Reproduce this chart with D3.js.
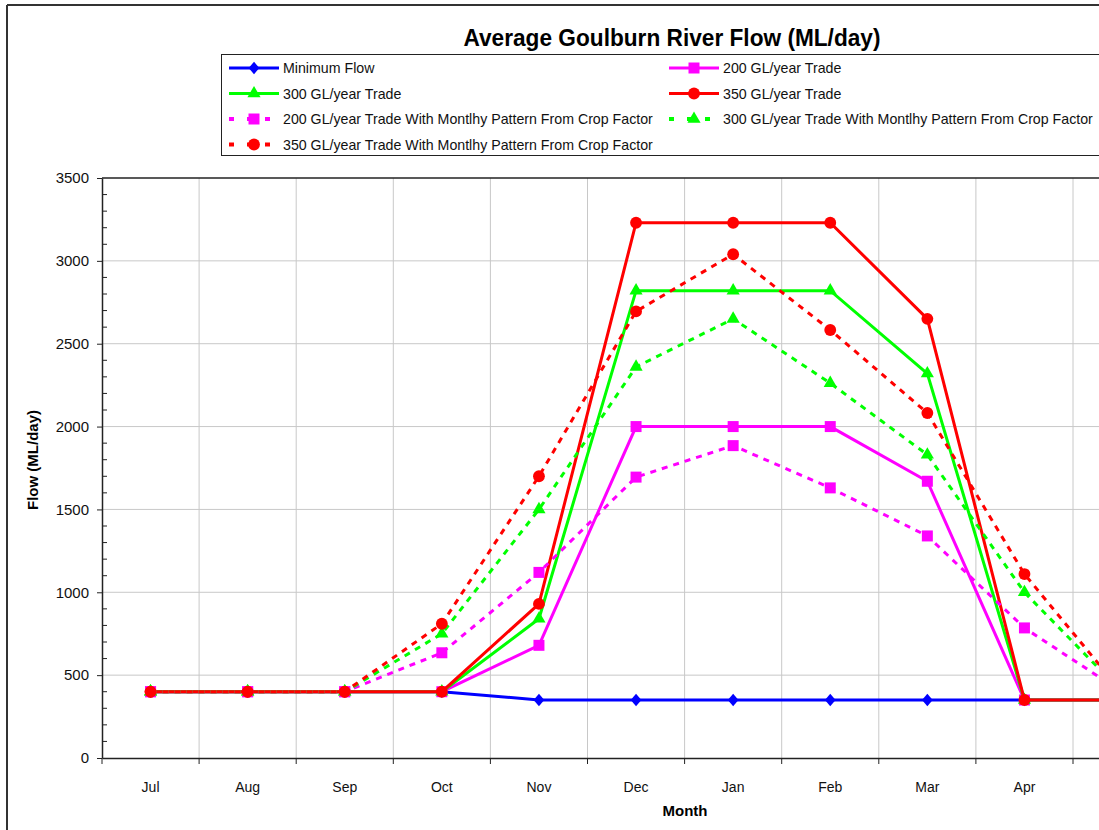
<!doctype html>
<html lang="en">
<head>
  <meta charset="utf-8">
  <title>Average Goulburn River Flow</title>
  <script src="https://cdn.jsdelivr.net/npm/d3@7"></script>
  <style>
    body { margin: 0; background: #fff; overflow: hidden; }
    svg { display: block; font-family: "Liberation Sans", Arial, sans-serif; }
    .grid line { stroke: #c8c8c8; stroke-width: 1; }
  </style>
</head>
<body>
<svg id="chart" width="1099" height="830"></svg>
<script>
// months Jul..Jun (chart is cropped on the right, only Jul..Apr visible)
var months = ["Jul", "Aug", "Sep", "Oct", "Nov", "Dec", "Jan", "Feb", "Mar", "Apr", "May", "Jun"];
var yTicks = [0, 500, 1000, 1500, 2000, 2500, 3000, 3500];

var minimumFlow = [400, 400, 400, 400, 350, 350, 350, 350, 350, 350, 350, 350];
var trade200 = [400, 400, 400, 400, 680, 2000, 2000, 2000, 1670, 350, 350, 350];
var trade300 = [400, 400, 400, 400, 840, 2820, 2820, 2820, 2320, 350, 350, 350];
var trade350 = [400, 400, 400, 400, 930, 3230, 3230, 3230, 2650, 350, 350, 350];
var crop200 = [400, 400, 400, 635, 1120, 1695, 1885, 1630, 1340, 785, 400, 400];
var crop300 = [400, 400, 400, 750, 1500, 2360, 2650, 2262, 1830, 1000, 400, 400];
var crop350 = [400, 400, 400, 810, 1700, 2695, 3040, 2583, 2082, 1110, 400, 400];

// diamond marker like the excel one
var diamond = {
  draw: function(ctx, size) {
    var h = Math.sqrt(size) * 0.75, w = h * 0.85;
    ctx.moveTo(0, -h); ctx.lineTo(w, 0); ctx.lineTo(0, h); ctx.lineTo(-w, 0); ctx.closePath();
  }
};

var series = [
  { name: "Minimum Flow", values: minimumFlow, color: "#0000ff", dash: null, sym: diamond, size: 70 },
  { name: "200 GL/year Trade", values: trade200, color: "#ff00ff", dash: null, sym: d3.symbolSquare, size: 121 },
  { name: "300 GL/year Trade", values: trade300, color: "#00ff00", dash: null, sym: d3.symbolTriangle, size: 75 },
  { name: "350 GL/year Trade", values: trade350, color: "#ff0000", dash: null, sym: d3.symbolCircle, size: 110 },
  { name: "200 GL/year Trade With Montlhy Pattern From Crop Factor", values: crop200, color: "#ff00ff", dash: "6,6", sym: d3.symbolSquare, size: 121 },
  { name: "300 GL/year Trade With Montlhy Pattern From Crop Factor", values: crop300, color: "#00ff00", dash: "6,6", sym: d3.symbolTriangle, size: 75 },
  { name: "350 GL/year Trade With Montlhy Pattern From Crop Factor", values: crop350, color: "#ff0000", dash: "6,6", sym: d3.symbolCircle, size: 110 }
];

var svg = d3.select("#chart");
var plotLeft = 102, plotTop = 178, plotBottom = 758, band = 97.1;
var plotRight = plotLeft + band * months.length;

var x = d3.scaleBand().domain(months).range([plotLeft, plotRight]).padding(0);
var y = d3.scaleLinear().domain([0, 3500]).range([plotBottom, plotTop]);

// outer chart frame (only top and left edges are inside the picture)
svg.append("line").attr("x1", 7).attr("x2", 1099).attr("y1", 5).attr("y2", 5)
  .attr("stroke", "#333").attr("stroke-width", 2);
svg.append("line").attr("x1", 7).attr("x2", 7).attr("y1", 5).attr("y2", 830)
  .attr("stroke", "#333").attr("stroke-width", 2);

// title
svg.append("text").attr("x", 672).attr("y", 46).attr("text-anchor", "middle")
  .style("font-size", "24px").style("font-weight", "bold")
  .attr("textLength", 417).attr("lengthAdjust", "spacingAndGlyphs")
  .text("Average Goulburn River Flow (ML/day)");

// gridlines
var grid = svg.append("g").attr("class", "grid");
grid.selectAll("line.h").data(yTicks.slice(1, -1)).enter().append("line")
  .attr("x1", plotLeft).attr("x2", plotRight)
  .attr("y1", function(d) { return y(d); }).attr("y2", function(d) { return y(d); });
grid.selectAll("line.v").data(months.slice(1)).enter().append("line")
  .attr("x1", function(d) { return x(d); }).attr("x2", function(d) { return x(d); })
  .attr("y1", plotTop).attr("y2", plotBottom);
// top border of plot
svg.append("line").attr("x1", plotLeft).attr("x2", plotRight)
  .attr("y1", plotTop).attr("y2", plotTop).attr("stroke", "#222").attr("stroke-width", 1.5);

// y axis
var yAxis = svg.append("g").attr("transform", "translate(" + plotLeft + ",0)")
  .call(d3.axisLeft(y).tickValues(yTicks).tickFormat(d3.format("d"))
    .tickSize(5).tickSizeOuter(0).tickPadding(8));
yAxis.select(".domain").attr("stroke", "#222").attr("stroke-width", 1.5);
yAxis.selectAll(".tick line").attr("stroke", "#222");
yAxis.selectAll("text").style("font-size", "15px").attr("fill", "#111")
  .style("font-family", "'Liberation Sans', Arial, sans-serif");
// minor ticks every 100 inside the plot
svg.append("g").selectAll("line").data(d3.range(0, 3501, 100).filter(function(v) { return v % 500 !== 0; }))
  .enter().append("line")
  .attr("x1", plotLeft).attr("x2", plotLeft + 5)
  .attr("y1", function(d) { return y(d); }).attr("y2", function(d) { return y(d); })
  .attr("stroke", "#222");

// x axis (May/Jun fall outside the cropped picture, so no label for them)
var visibleMonths = months.slice(0, 10);
var xAxis = svg.append("g").attr("transform", "translate(0," + plotBottom + ")")
  .call(d3.axisBottom(x).tickValues(visibleMonths).tickSize(0).tickPadding(24));
xAxis.select(".domain").attr("stroke", "#222").attr("stroke-width", 1.5);
xAxis.selectAll("text").style("font-size", "14px").attr("fill", "#111")
  .style("font-family", "'Liberation Sans', Arial, sans-serif");
svg.append("g").selectAll("line").data(months.concat(["end"])).enter().append("line")
  .attr("x1", function(d, i) { return plotLeft + band * i; }).attr("x2", function(d, i) { return plotLeft + band * i; })
  .attr("y1", plotBottom).attr("y2", plotBottom + 6).attr("stroke", "#222");

// axis titles
svg.append("text").attr("x", 685).attr("y", 816).attr("text-anchor", "middle")
  .style("font-size", "15px").style("font-weight", "bold").text("Month");
svg.append("text").attr("transform", "translate(38,460) rotate(-90)").attr("text-anchor", "middle")
  .style("font-size", "15px").style("font-weight", "bold").text("Flow (ML/day)");

// lines + markers
var cx = function(d, i) { return x(months[i]) + x.bandwidth() / 2; };
var line = d3.line().x(cx).y(function(d) { return y(d); });

series.forEach(function(s) {
  var g = svg.append("g");
  g.append("path").datum(s.values).attr("d", line)
    .attr("fill", "none").attr("stroke", s.color)
    .attr("stroke-width", 3)
    .attr("stroke-dasharray", s.dash);
  g.selectAll("path.m").data(s.values).enter().append("path")
    .attr("d", d3.symbol().type(s.sym).size(s.size))
    .attr("transform", function(d, i) { return "translate(" + cx(d, i) + "," + y(d) + ")"; })
    .attr("fill", s.color);
});

// legend
var lg = svg.append("g");
lg.append("rect").attr("x", 221.5).attr("y", 54.5).attr("width", 900).attr("height", 101)
  .attr("fill", "#fff").attr("stroke", "#222");
var legX = [229, 669], rowY = [68, 93.5, 119, 144.5];
series.forEach(function(s, i) {
  var lx = legX[i % 2], ly = rowY[Math.floor(i / 2)];
  var it = lg.append("g").attr("transform", "translate(" + lx + "," + ly + ")");
  it.append("line").attr("x1", 0).attr("x2", 50).attr("y1", 0).attr("y2", 0)
    .attr("stroke", s.color).attr("stroke-width", s.dash ? 4 : 3)
    .attr("stroke-dasharray", s.dash ? "5,13" : null);
  it.append("path").attr("d", d3.symbol().type(s.sym).size(s.size))
    .attr("transform", "translate(25,0)").attr("fill", s.color);
  it.append("text").attr("x", 54).attr("y", 5).style("font-size", "14.2px").attr("fill", "#111").text(s.name);
});
</script>
</body>
</html>
